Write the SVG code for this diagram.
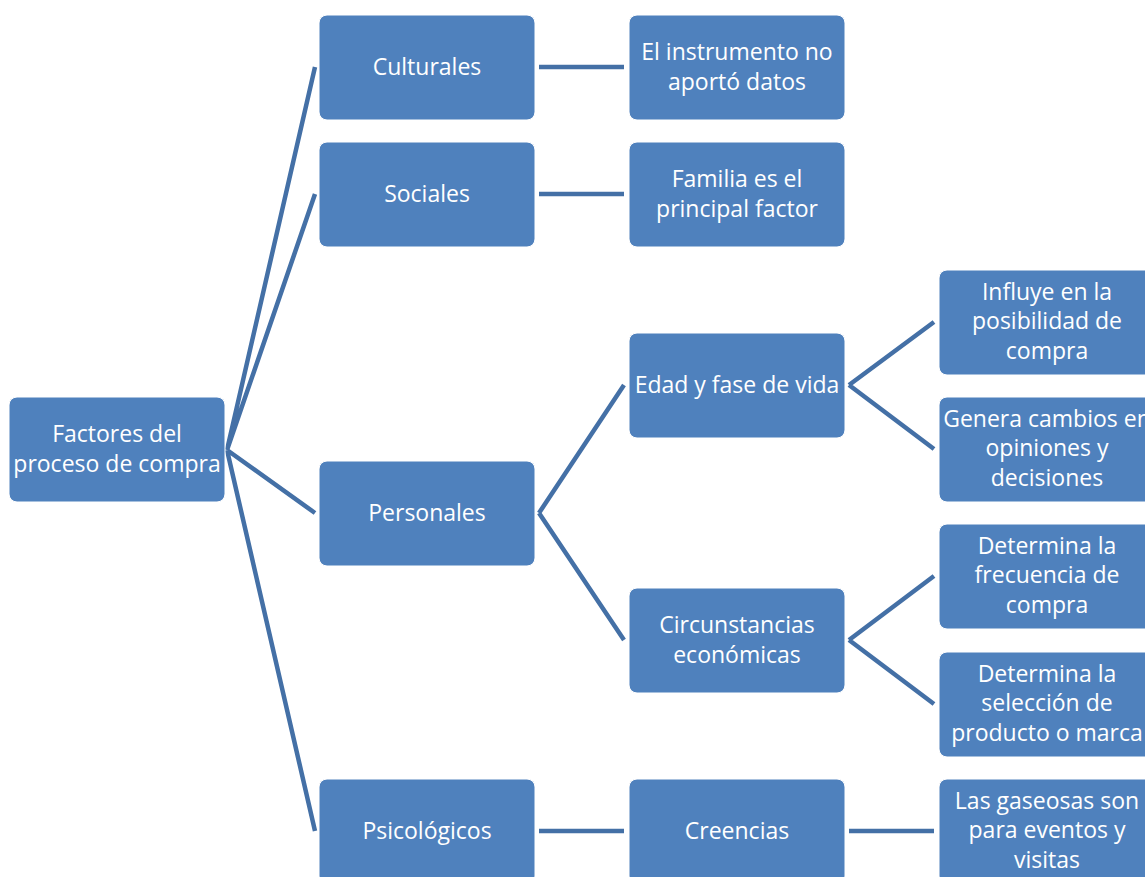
<svg xmlns="http://www.w3.org/2000/svg" width="1145" height="877" viewBox="0 0 1145 877">
<style>
.n{fill:#4F81BD;stroke:#ffffff;stroke-width:1}
.t{font-family:"Open Sans","Liberation Sans",sans-serif;font-size:23px;fill:#ffffff;text-anchor:middle}
.c{stroke:#4470A6;stroke-width:4.5;fill:none}
</style>
<rect width="1145" height="877" fill="#ffffff"/>
<g id="connectors">
<path class="c" d="M227,450 L315,67 M227,450 L315,194 M227,450 L315,513 M227,450 L315,831"/>
<path class="c" d="M539,67 H624 M539,194 H624 M539,831 H624 M849,831 H934"/>
<path class="c" d="M539,513 L624,385 M539,513 L624,640"/>
<path class="c" d="M849,385 L934,322 M849,385 L934,449 M849,640 L934,576 M849,640 L934,704"/>
</g>
<g id="root"><rect class="n" x="9" y="397" width="216" height="105" rx="8"/><text class="t" x="117" y="442">Factores del</text><text class="t" x="117" y="472">proceso de compra</text></g>
<g id="culturales"><rect class="n" x="319" y="15" width="216" height="105" rx="8"/><text class="t" x="427" y="75">Culturales</text></g>
<g id="sociales"><rect class="n" x="319" y="142" width="216" height="105" rx="8"/><text class="t" x="427" y="202">Sociales</text></g>
<g id="personales"><rect class="n" x="319" y="461" width="216" height="105" rx="8"/><text class="t" x="427" y="521">Personales</text></g>
<g id="psicologicos"><rect class="n" x="319" y="779" width="216" height="105" rx="8"/><text class="t" x="427" y="839">Psicológicos</text></g>
<g id="instrumento"><rect class="n" x="629" y="15" width="216" height="105" rx="8"/><text class="t" x="737" y="60">El instrumento no</text><text class="t" x="737" y="90">aportó datos</text></g>
<g id="familia"><rect class="n" x="629" y="142" width="216" height="105" rx="8"/><text class="t" x="737" y="187">Familia es el</text><text class="t" x="737" y="217">principal factor</text></g>
<g id="edad"><rect class="n" x="629" y="333" width="216" height="105" rx="8"/><text class="t" x="737" y="393">Edad y fase de vida</text></g>
<g id="circunstancias"><rect class="n" x="629" y="588" width="216" height="105" rx="8"/><text class="t" x="737" y="633">Circunstancias</text><text class="t" x="737" y="663">económicas</text></g>
<g id="creencias"><rect class="n" x="629" y="779" width="216" height="105" rx="8"/><text class="t" x="737" y="839">Creencias</text></g>
<g id="influye"><rect class="n" x="939" y="270" width="216" height="105" rx="8"/><text class="t" x="1047" y="300">Influye en la</text><text class="t" x="1047" y="329">posibilidad de</text><text class="t" x="1047" y="359">compra</text></g>
<g id="genera"><rect class="n" x="939" y="397" width="216" height="105" rx="8"/><text class="t" x="1047" y="427">Genera cambios en</text><text class="t" x="1047" y="456">opiniones y</text><text class="t" x="1047" y="486">decisiones</text></g>
<g id="frecuencia"><rect class="n" x="939" y="524" width="216" height="105" rx="8"/><text class="t" x="1047" y="554">Determina la</text><text class="t" x="1047" y="583">frecuencia de</text><text class="t" x="1047" y="613">compra</text></g>
<g id="seleccion"><rect class="n" x="939" y="652" width="216" height="105" rx="8"/><text class="t" x="1047" y="682">Determina la</text><text class="t" x="1047" y="711">selección de</text><text class="t" x="1047" y="741">producto o marca</text></g>
<g id="gaseosas"><rect class="n" x="939" y="779" width="216" height="105" rx="8"/><text class="t" x="1047" y="809">Las gaseosas son</text><text class="t" x="1047" y="838">para eventos y</text><text class="t" x="1047" y="868">visitas</text></g>
</svg>
